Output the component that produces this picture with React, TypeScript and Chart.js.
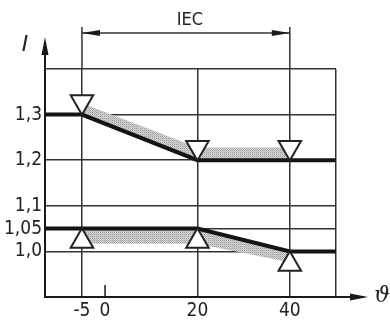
import React, { useEffect, useRef } from "react";
import { Chart, registerables } from "chart.js";

Chart.register(...registerables);

// ---- data ----
const xTickValues = [-13, -5, 0, 20, 40, 50];
const xTickLabels: Record<string, string> = { "-5": "-5", "0": "0", "20": "20", "40": "40" };
const xGridValues = [-5, 20, 40, 50];

const yTickValues = [0.9, 1.0, 1.05, 1.1, 1.2, 1.3, 1.4];
const yTickLabels: Record<string, string> = { "1": "1,0", "1.05": "1,05", "1.1": "1,1", "1.2": "1,2", "1.3": "1,3" };

const upperLineX = [-13, -5, 20, 50];
const upperLineY = [1.3, 1.3, 1.2, 1.2];
const lowerLineX = [-13, 20, 40, 50];
const lowerLineY = [1.05, 1.05, 1.0, 1.0];

const bandX = [-5, 20, 40];
const upperBandTop = [1.325, 1.228, 1.228];
const upperBandBottom = [1.3, 1.2, 1.2];
const lowerBandTop = [1.05, 1.05, 1.0];
const lowerBandBottom = [1.017, 1.017, 0.976];

const markX = [-5, 20, 40];
const upperMarkY = [1.328, 1.228, 1.228];
const lowerMarkY = [1.022, 1.022, 0.972];

const dimFrom = -5;
const dimTo = 40;
const dimLabel = "IEC";
const yAxisLabel = "I";
const xAxisLabel = "ϑ";

const FONT = "'DejaVu Sans Condensed', 'Liberation Sans Narrow', 'DejaVu Sans', sans-serif";

const pts = (xs: number[], ys: number[]) => xs.map((x, i) => ({ x, y: ys[i] }));

function makePattern(): CanvasPattern | string {
  const c = document.createElement("canvas");
  c.width = 2;
  c.height = 2;
  const g = c.getContext("2d");
  if (!g) return "#c4c4c4";
  g.fillStyle = "#d8d8d8";
  g.fillRect(0, 0, 2, 2);
  g.fillStyle = "#9a9a9a";
  g.fillRect(0, 0, 1, 1);
  g.fillStyle = "#b8b8b8";
  g.fillRect(1, 1, 1, 1);
  const p = g.createPattern(c, "repeat");
  return p || "#c4c4c4";
}

function arrowHead(ctx: CanvasRenderingContext2D, tx: number, ty: number, dx: number, dy: number, len: number, hw: number) {
  // tip at (tx,ty), pointing in direction (dx,dy)
  const bx = tx - dx * len;
  const by = ty - dy * len;
  const px = -dy;
  const py = dx;
  ctx.beginPath();
  ctx.moveTo(tx, ty);
  ctx.lineTo(bx + px * hw, by + py * hw);
  ctx.lineTo(bx - px * hw, by - py * hw);
  ctx.closePath();
  ctx.fill();
}

const decorPlugin = {
  id: "decor",
  afterDraw(chart: any) {
    const ctx: CanvasRenderingContext2D = chart.ctx;
    const xs = chart.scales.x;
    const ys = chart.scales.y;
    const a = chart.chartArea;
    ctx.save();
    ctx.strokeStyle = "#1a1a1a";
    ctx.fillStyle = "#1a1a1a";
    ctx.lineWidth = 2;

    // y axis extension + arrow
    ctx.beginPath();
    ctx.moveTo(a.left, a.top);
    ctx.lineTo(a.left, a.top - 26);
    ctx.stroke();
    arrowHead(ctx, a.left, a.top - 32, 0, -1, 18, 3.5);

    // x axis extension + arrow
    ctx.beginPath();
    ctx.moveTo(a.right, a.bottom);
    ctx.lineTo(a.right + 28, a.bottom);
    ctx.stroke();
    arrowHead(ctx, a.right + 32, a.bottom, 1, 0, 18, 3.5);

    // 0 tick
    const x0 = xs.getPixelForValue(0);
    ctx.lineWidth = 1.5;
    ctx.beginPath();
    ctx.moveTo(x0, a.bottom);
    ctx.lineTo(x0, a.bottom - 12);
    ctx.stroke();

    // dimension line
    const d1 = xs.getPixelForValue(dimFrom);
    const d2 = xs.getPixelForValue(dimTo);
    ctx.strokeStyle = "#333";
    ctx.lineWidth = 1.5;
    ctx.beginPath();
    ctx.moveTo(d1, a.top);
    ctx.lineTo(d1, a.top - 42);
    ctx.moveTo(d2, a.top);
    ctx.lineTo(d2, a.top - 42);
    ctx.moveTo(d1, a.top - 36);
    ctx.lineTo(d2, a.top - 36);
    ctx.stroke();
    ctx.fillStyle = "#1a1a1a";
    arrowHead(ctx, d1, a.top - 36, -1, 0, 18, 3);
    arrowHead(ctx, d2, a.top - 36, 1, 0, 18, 3);

    // texts
    ctx.fillStyle = "#222";
    ctx.textAlign = "center";
    ctx.textBaseline = "middle";
    ctx.font = `18px ${FONT}`;
    ctx.fillText(dimLabel, (d1 + d2) / 2 + 4, a.top - 49);

    ctx.font = "italic 22px 'DejaVu Sans', sans-serif";
    ctx.fillText(yAxisLabel, a.left - 20, a.top - 24);

    ctx.font = "italic 22px 'DejaVu Serif', serif";
    ctx.fillText(xAxisLabel, a.right + 46, a.bottom - 1);
    ys && ctx.restore();
  },
};

export default function App() {
  const ref = useRef<HTMLCanvasElement>(null);

  useEffect(() => {
    document.body.style.margin = "0";
    const canvas = ref.current;
    if (!canvas) return;
    const pattern = makePattern();
    const thick = "#141414";

    const chart = new Chart(canvas, {
      type: "scatter",
      data: {
        datasets: [
          {
            label: "upper marks",
            data: pts(markX, upperMarkY),
            showLine: false,
            pointStyle: "triangle",
            pointRotation: 180,
            pointRadius: 13,
            pointBackgroundColor: "#ffffff",
            pointBorderColor: "#222",
            pointBorderWidth: 2,
          } as any,
          {
            label: "lower marks",
            data: pts(markX, lowerMarkY),
            showLine: false,
            pointStyle: "triangle",
            pointRadius: 13,
            pointBackgroundColor: "#ffffff",
            pointBorderColor: "#222",
            pointBorderWidth: 2,
          } as any,
          {
            label: "upper line",
            data: pts(upperLineX, upperLineY),
            showLine: true,
            borderColor: thick,
            borderWidth: 4,
            pointRadius: 0,
            fill: false,
          } as any,
          {
            label: "lower line",
            data: pts(lowerLineX, lowerLineY),
            showLine: true,
            borderColor: thick,
            borderWidth: 4,
            pointRadius: 0,
            fill: false,
          } as any,
          {
            label: "upper band top",
            data: pts(bandX, upperBandTop),
            showLine: true,
            borderColor: "rgba(0,0,0,0)",
            borderWidth: 0,
            pointRadius: 0,
            backgroundColor: pattern,
            fill: "+1",
          } as any,
          {
            label: "upper band bottom",
            data: pts(bandX, upperBandBottom),
            showLine: true,
            borderColor: "rgba(0,0,0,0)",
            borderWidth: 0,
            pointRadius: 0,
            fill: false,
          } as any,
          {
            label: "lower band top",
            data: pts(bandX, lowerBandTop),
            showLine: true,
            borderColor: "rgba(0,0,0,0)",
            borderWidth: 0,
            pointRadius: 0,
            backgroundColor: pattern,
            fill: "+1",
          } as any,
          {
            label: "lower band bottom",
            data: pts(bandX, lowerBandBottom),
            showLine: true,
            borderColor: "rgba(0,0,0,0)",
            borderWidth: 0,
            pointRadius: 0,
            fill: false,
          } as any,
        ],
      },
      options: {
        responsive: false,
        animation: false,
        devicePixelRatio: 1,
        layout: { padding: { top: 69, right: 54, left: 0, bottom: 0 } },
        plugins: {
          legend: { display: false },
          tooltip: { enabled: false },
        },
        scales: {
          x: {
            type: "linear",
            min: -13,
            max: 50,
            afterBuildTicks: (s: any) => {
              s.ticks = xTickValues.map((v) => ({ value: v }));
            },
            afterFit: (s: any) => {
              s.height = 32;
            },
            ticks: {
              autoSkip: false,
              maxRotation: 0,
              padding: 3,
              color: "#222",
              font: { family: FONT, size: 19 },
              callback: (v: any) => xTickLabels[String(v)] ?? "",
            },
            grid: {
              drawTicks: false,
              lineWidth: 1.5,
              color: (c: any) => (xGridValues.includes(c.tick?.value) ? "#333" : "rgba(0,0,0,0)"),
            },
            border: { display: true, color: "#1a1a1a", width: 2 },
          },
          y: {
            type: "linear",
            min: 0.9,
            max: 1.4,
            afterBuildTicks: (s: any) => {
              s.ticks = yTickValues.map((v) => ({ value: v }));
            },
            afterFit: (s: any) => {
              s.width = 45;
            },
            ticks: {
              autoSkip: false,
              padding: 3,
              color: "#222",
              font: { family: FONT, size: 19 },
              callback: (v: any) => yTickLabels[String(v)] ?? "",
            },
            grid: {
              drawTicks: false,
              lineWidth: 1.5,
              color: (c: any) => (c.tick?.value === 0.9 ? "rgba(0,0,0,0)" : "#333"),
            },
            border: { display: true, color: "#1a1a1a", width: 2 },
          },
        },
      },
      plugins: [decorPlugin],
    });
    return () => chart.destroy();
  }, []);

  return (
    <div style={{ position: "absolute", left: 0, top: 0, width: 390, height: 329, background: "#fff" }}>
      <canvas ref={ref} width={390} height={329} style={{ width: 390, height: 329, display: "block" }} />
    </div>
  );
}
